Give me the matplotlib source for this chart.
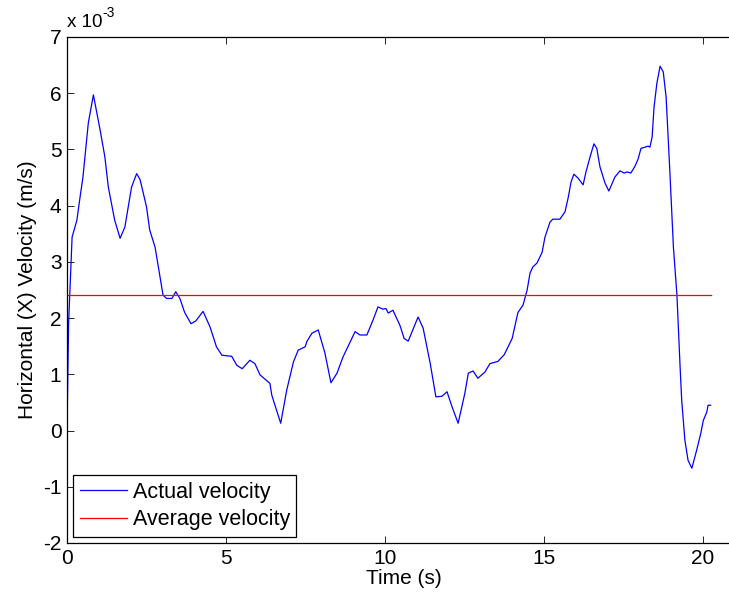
import matplotlib
matplotlib.use("Agg")
import matplotlib.pyplot as plt

plt.rcParams['font.family'] = ['Liberation Sans', 'DejaVu Sans']
plt.rcParams['axes.unicode_minus'] = False

# Time samples (s) and horizontal velocity (units of 1e-3 m/s)
time_s = [0.0, 0.05, 0.16, 0.31, 0.41, 0.5, 0.67, 0.83, 1.04, 1.19, 1.3, 1.5, 1.67,
          1.82, 2.03, 2.19, 2.3, 2.5, 2.6, 2.77, 3.02, 3.13, 3.3, 3.42, 3.55, 3.7,
          3.9, 4.05, 4.28, 4.5, 4.7, 4.87, 5.18, 5.34, 5.51, 5.75, 5.91, 6.07, 6.38,
          6.44, 6.72, 6.91, 7.12, 7.27, 7.49, 7.54, 7.7, 7.9, 8.11, 8.3, 8.49, 8.68,
          9.06, 9.21, 9.43, 9.62, 9.78, 9.93, 10.03, 10.1, 10.25, 10.47, 10.6, 10.73,
          11.04, 11.2, 11.42, 11.6, 11.79, 11.95, 12.11, 12.3, 12.51, 12.62, 12.77,
          12.92, 13.14, 13.3, 13.55, 13.75, 14.0, 14.18, 14.34, 14.47, 14.56, 14.65,
          14.78, 14.94, 15.03, 15.19, 15.28, 15.5, 15.66, 15.76, 15.85, 15.94, 16.07,
          16.23, 16.32, 16.45, 16.57, 16.66, 16.76, 16.92, 17.04, 17.16, 17.23, 17.39,
          17.52, 17.61, 17.73, 17.86, 17.96, 18.05, 18.18, 18.27, 18.33, 18.4, 18.46,
          18.55, 18.65, 18.75, 18.84, 18.96, 19.07, 19.18, 19.28, 19.33, 19.43, 19.53,
          19.65, 19.8, 19.93, 20.01, 20.12, 20.16, 20.24]
velocity = [0.0, 1.9, 3.44, 3.74, 4.15, 4.5, 5.47, 5.97, 5.35, 4.87, 4.33, 3.74, 3.42,
            3.62, 4.33, 4.57, 4.46, 3.98, 3.57, 3.26, 2.41, 2.35, 2.35, 2.47, 2.35, 2.1,
            1.9, 1.95, 2.12, 1.84, 1.49, 1.34, 1.32, 1.16, 1.1, 1.25, 1.19, 0.99, 0.84,
            0.63, 0.13, 0.72, 1.22, 1.43, 1.49, 1.58, 1.73, 1.79, 1.38, 0.85, 1.02, 1.31,
            1.76, 1.70, 1.70, 1.96, 2.2, 2.16, 2.17, 2.09, 2.14, 1.87, 1.64, 1.59,
            2.02, 1.82, 1.2, 0.6, 0.61, 0.69, 0.42, 0.13, 0.66, 1.02, 1.06,
            0.93, 1.04, 1.19, 1.23, 1.35, 1.64, 2.1, 2.23, 2.5, 2.80, 2.91,
            2.98, 3.17, 3.44, 3.71, 3.76, 3.76, 3.89, 4.14, 4.42, 4.56, 4.49,
            4.37, 4.6, 4.87, 5.1, 5.02, 4.69, 4.40, 4.26, 4.42, 4.51, 4.62,
            4.58, 4.6, 4.58, 4.7, 4.83, 5.02, 5.04, 5.06, 5.04, 5.22, 5.75,
            6.18, 6.48, 6.38, 5.93, 4.58, 3.26, 2.41, 1.13, 0.54, -0.17, -0.53,
            -0.67, -0.35, -0.05, 0.18, 0.33, 0.45, 0.45]
average_velocity = 2.41

x_ticks = [0, 5, 10, 15, 20]
y_ticks = [-2, -1, 0, 1, 2, 3, 4, 5, 6, 7]

FS = 15
W, H = 729, 601
fig = plt.figure(figsize=(W / 100, H / 100), dpi=100)
# axes extend a little beyond the right edge of the canvas
left, right, top, bottom = 67, 740, 37, 543
px_per_s = 31.8
ax = fig.add_axes([left / W, 1 - bottom / H, (right - left) / W, (bottom - top) / H])

ax.plot(time_s, velocity, color='#0000ff', lw=0.9, label='Actual velocity')
ax.plot([time_s[0], time_s[-1]], [average_velocity, average_velocity],
        color='#ff0000', lw=0.9, label='Average velocity')

ax.set_xlim(0, (right - left) / px_per_s)
ax.set_ylim(-2, 7)
ax.set_xticks(x_ticks)
ax.set_yticks(y_ticks)
ax.tick_params(direction='in', top=True, right=True, length=5, width=0.6,
               labelsize=FS, pad=4)
for s in ax.spines.values():
    s.set_linewidth(0.9)

ax.set_xlabel('Time (s)', fontsize=FS, labelpad=1)
ax.set_ylabel('Horizontal (X) Velocity (m/s)', fontsize=FS, labelpad=4)

# exponent note above the y axis
ax.text(0.0, 1.012, 'x 10', transform=ax.transAxes, fontsize=13.5,
        ha='left', va='bottom')
ax.annotate('-3', xy=(0.0, 1.012), xycoords='axes fraction', xytext=(25.5, 8),
            textcoords='offset points', fontsize=10, ha='left', va='bottom')

leg = ax.legend(loc='lower left', fontsize=15.5, fancybox=False, framealpha=1,
                edgecolor='black', borderaxespad=0.3, handlelength=2.2,
                handletextpad=0.25, borderpad=0.3, labelspacing=0.3)
leg.get_frame().set_linewidth(0.9)

fig.savefig('out.png', dpi=100)
